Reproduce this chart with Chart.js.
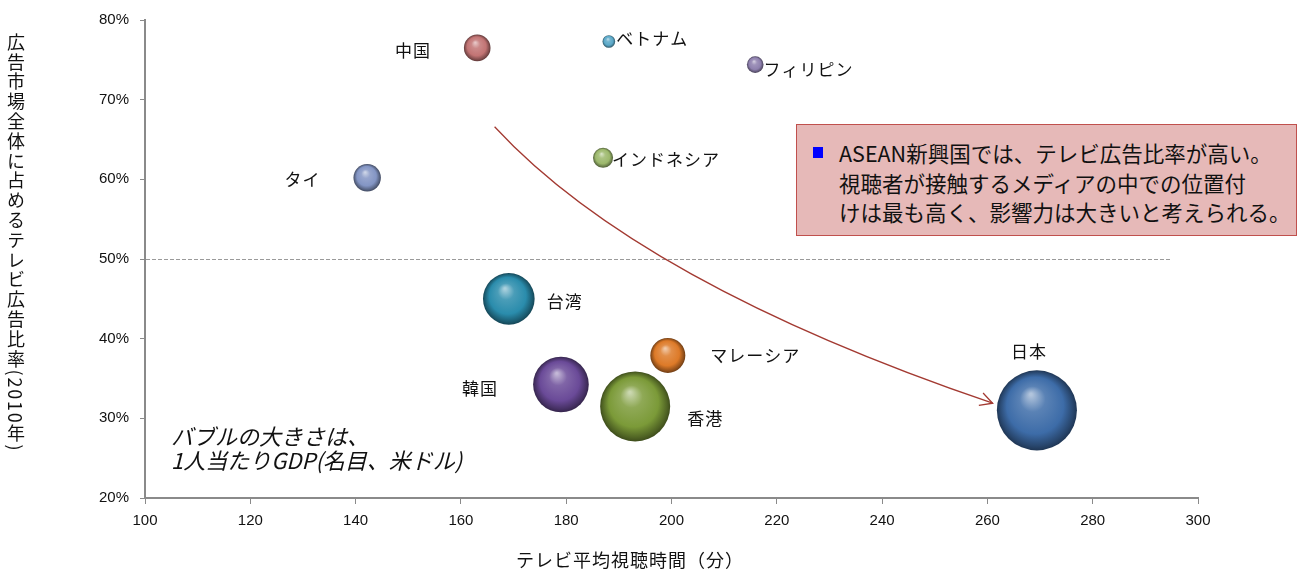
<!DOCTYPE html>
<html lang="ja">
<head>
<meta charset="utf-8">
<title>テレビ平均視聴時間とテレビ広告比率</title>
<script src="https://cdn.jsdelivr.net/npm/chart.js@4.4.1/dist/chart.umd.min.js"></script>
<style>
  body { margin: 0; background: #fff; }
  .wrap { position: relative; width: 1306px; height: 571px; font-family: "Noto Sans CJK JP", sans-serif; color: #111; }
  #bubbleChart { position: absolute; left: 0; top: 0; }
  .y_title { position: absolute; left: 7px; top: 33px; writing-mode: vertical-rl; font-size: 18px; line-height: 18px; letter-spacing: 1.8px; white-space: nowrap; }
  .x_title { position: absolute; left: 516px; top: 547px; font-size: 18px; line-height: 24px; letter-spacing: 1px; white-space: nowrap; }
  .note { position: absolute; left: 171px; top: 424px; font-size: 22px; line-height: 23.5px; font-style: italic; white-space: nowrap; }
  .callout { position: absolute; left: 796px; top: 124px; width: 501px; height: 112px; box-sizing: border-box; background: #e6b9b8; border: 1.5px solid #c0504d; padding: 13px 0 0 42px; font-size: 21.5px; line-height: 29.5px; white-space: nowrap; }
  .callout .mark { position: absolute; left: 16px; top: 22px; width: 10px; height: 11px; background: #0000ff; }
</style>
</head>
<body>
<div class="wrap">
  <canvas id="bubbleChart" width="1306" height="571"></canvas>
  <div class="y_title">広告市場全体に占めるテレビ広告比率(2010年)</div>
  <div class="x_title">テレビ平均視聴時間（分）</div>
  <div class="note">バブルの大きさは、<br>1人当たりGDP(名目、米ドル)</div>
  <div class="callout">
    <span class="mark"></span>
    ASEAN新興国では、テレビ広告比率が高い。<br>
    視聴者が接触するメディアの中での位置付<br>
    けは最も高く、影響力は大きいと考えられる。
  </div>
</div>

<script>
"use strict";

// Data

const countries = ["中国", "ベトナム", "フィリピン", "インドネシア", "タイ", "台湾", "マレーシア", "韓国", "香港", "日本"];
const viewingMinutes = [163.1, 188.1, 215.9, 187.0, 142.2, 169.1, 199.3, 179.0, 193.1, 269.4];
const tvAdShare = [76.5, 77.3, 74.4, 62.7, 60.2, 45.0, 37.9, 34.25, 31.5, 31.0];
const gdpPerCapita = [4750, 1070, 1850, 2690, 5050, 17900, 8230, 20770, 32900, 43000];

// Styles

const bubbleColors = ["#c27474", "#5aa8c8", "#8e80ae", "#9cb86c", "#8395c4", "#2a8cac", "#dd7a28", "#6a4a98", "#7b9a38", "#3d6ca8"];
const bubbleScale = 0.193; // px of radius per sqrt(USD)

// label side, gap from bubble edge, vertical shift
const labelSpots = [
  ["left", 33, 3],
  ["right", 1, -3],
  ["right", 0, 5],
  ["right", -1, 2],
  ["left", 33, 2],
  ["right", 12, 3],
  ["right", 25, 0],
  ["left", 35, 4],
  ["right", 17, 12],
  ["above", -8, 19],
];

// Curved arrow, in axis units
const arrowFrom = [166.4, 66.6];
const arrowVia = [193.8, 47.0];
const arrowTo = [261.0, 31.9];

const points = countries.map((c, i) => ({
  x: viewingMinutes[i],
  y: tvAdShare[i],
  r: Math.sqrt(gdpPerCapita[i]) * bubbleScale,
}));

// mix a hex colour towards white (t > 0) or black (t < 0)
const shade = (hex, t) => {
  const n = parseInt(hex.slice(1), 16);
  const rgb = [(n >> 16) & 255, (n >> 8) & 255, n & 255];
  const target = t > 0 ? 255 : 0;
  const k = Math.abs(t);
  const out = rgb.map((v) => Math.round(v + (target - v) * k));
  return `rgb(${out[0]}, ${out[1]}, ${out[2]})`;
};

const sphereFill = (c) => {
  const base = bubbleColors[c.dataIndex];
  const chart = c.chart;
  if (c.type !== "data" || !chart.chartArea) return base;
  const cx = chart.scales.x.getPixelForValue(c.raw.x);
  const cy = chart.scales.y.getPixelForValue(c.raw.y);
  const r = c.raw.r;
  const g = chart.ctx.createRadialGradient(cx - r * 0.15, cy - r * 0.4, r * 0.03, cx, cy, r);
  g.addColorStop(0, shade(base, 0.6));
  g.addColorStop(0.3, shade(base, 0.15));
  g.addColorStop(0.7, base);
  g.addColorStop(0.92, shade(base, -0.35));
  g.addColorStop(1, shade(base, -0.5));
  return g;
};

// 50% reference line and the trend arrow

const guidePlugin = {
  id: "guides",
  beforeDatasetsDraw(chart) {
    const { ctx, scales } = chart;
    const xs = scales.x;
    const ys = scales.y;
    ctx.save();
    ctx.strokeStyle = "#9a9a9a";
    ctx.lineWidth = 1;
    ctx.setLineDash([4, 2]);
    const yMid = Math.round(ys.getPixelForValue(50)) + 0.5;
    ctx.beginPath();
    ctx.moveTo(xs.getPixelForValue(100) + 1, yMid);
    ctx.lineTo(xs.getPixelForValue(295), yMid);
    ctx.stroke();

    ctx.setLineDash([]);
    ctx.strokeStyle = "#a33a32";
    ctx.lineWidth = 1.3;
    const p0 = [xs.getPixelForValue(arrowFrom[0]), ys.getPixelForValue(arrowFrom[1])];
    const p1 = [xs.getPixelForValue(arrowVia[0]), ys.getPixelForValue(arrowVia[1])];
    const p2 = [xs.getPixelForValue(arrowTo[0]), ys.getPixelForValue(arrowTo[1])];
    ctx.beginPath();
    ctx.moveTo(p0[0], p0[1]);
    ctx.quadraticCurveTo(p1[0], p1[1], p2[0], p2[1]);
    ctx.stroke();
    const ang = Math.atan2(p2[1] - p1[1], p2[0] - p1[0]);
    const len = 14;
    const spread = (28 * Math.PI) / 180;
    ctx.beginPath();
    ctx.moveTo(p2[0] - len * Math.cos(ang - spread), p2[1] - len * Math.sin(ang - spread));
    ctx.lineTo(p2[0], p2[1]);
    ctx.lineTo(p2[0] - len * Math.cos(ang + spread), p2[1] - len * Math.sin(ang + spread));
    ctx.stroke();
    ctx.restore();
  },
};

// Country names next to each bubble

const labelPlugin = {
  id: "countryLabels",
  afterDatasetsDraw(chart) {
    const ctx = chart.ctx;
    const meta = chart.getDatasetMeta(0);
    ctx.save();
    ctx.font = '17px "Noto Sans CJK JP"';
    ctx.letterSpacing = "1px";
    ctx.fillStyle = "#111";
    ctx.textBaseline = "middle";
    meta.data.forEach((pt, i) => {
      const [side, gap, dy] = labelSpots[i];
      const r = points[i].r;
      if (side === "left") {
        ctx.textAlign = "right";
        ctx.fillText(countries[i], pt.x - r - gap, pt.y + dy);
      } else if (side === "right") {
        ctx.textAlign = "left";
        ctx.fillText(countries[i], pt.x + r + gap, pt.y + dy);
      } else {
        ctx.textAlign = "center";
        ctx.fillText(countries[i], pt.x + gap, pt.y - r - dy);
      }
    });
    ctx.restore();
  },
};

const tickFont = { family: "'Liberation Sans', Arial, sans-serif", size: 15 };

const drawChart = () => {
  const ctx = document.getElementById("bubbleChart").getContext("2d");
  new Chart(ctx, {
    type: "bubble",
    data: {
      labels: countries,
      datasets: [
        {
          data: points,
          backgroundColor: sphereFill,
          borderWidth: 0,
        },
      ],
    },
    options: {
      responsive: false,
      animation: false,
      events: [],
      clip: false,
      layout: { autoPadding: false, padding: { top: 19, right: 108, bottom: 0, left: 0 } },
      plugins: {
        legend: { display: false },
        tooltip: { enabled: false },
      },
      scales: {
        x: {
          type: "linear",
          min: 100,
          max: 300,
          ticks: { stepSize: 20, padding: 8, color: "#111", font: tickFont },
          grid: { drawOnChartArea: false, tickLength: 6, color: "#8a8a8a" },
          border: { color: "#8a8a8a", width: 2 },
          afterFit(scale) {
            scale.height = 73;
          },
        },
        y: {
          type: "linear",
          min: 20,
          max: 80,
          ticks: {
            stepSize: 10,
            padding: 11,
            color: "#111",
            font: tickFont,
            callback: (v) => v + "%",
          },
          grid: { drawOnChartArea: false, tickLength: 5, color: "#8a8a8a" },
          border: { color: "#8a8a8a", width: 2 },
          afterFit(scale) {
            scale.width = 145;
          },
        },
      },
    },
    plugins: [guidePlugin, labelPlugin],
  });
};

document.fonts
  .load('17px "Noto Sans CJK JP"', "中国")
  .then(drawChart)
  .catch(drawChart);
</script>
</body>
</html>
